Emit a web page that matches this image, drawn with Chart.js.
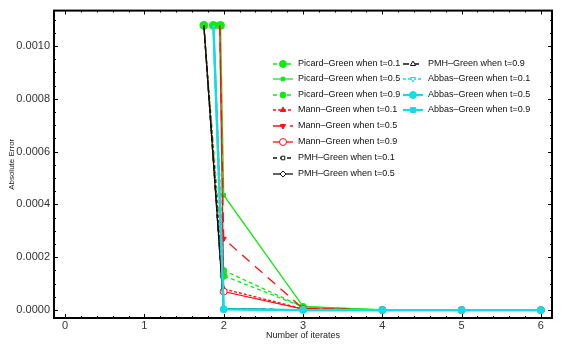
<!DOCTYPE html>
<html>
<head>
<meta charset="utf-8">
<script src="https://cdn.jsdelivr.net/npm/chart.js@4/dist/chart.umd.min.js"></script>
<style>
  html, body { margin: 0; padding: 0; background: #fff; }
  #wrap { width: 567px; height: 346px; }
</style>
</head>
<body>
<div id="wrap"><canvas id="errorChart"></canvas></div>
<script>
// iterate numbers (first point of each series sits a bit left of 2)
const iterates = [2, 3, 4, 5, 6];
const xTicks = [0, 1, 2, 3, 4, 5, 6];
const yTicks = [0, 0.0002, 0.0004, 0.0006, 0.0008, 0.0010];

// x position of the first (top) point for each series
const firstIterate = [1.75, 1.96, 1.87, 1.75, 1.95, 1.95, 1.75, 1.75, 1.75, 1.87, 1.87, 1.87];
const startError = 0.001078;

// absolute error at iterates 2..6
const picard01 = [0.000130, 0.000012, 0.000001, 0, 0];
const picard05 = [0.000435, 0.000014, 0.000001, 0, 0];
const picard09 = [0.000150, 0.000012, 0.000001, 0, 0];
const mann01   = [0.000080, 0.000005, 0, 0, 0];
const mann05   = [0.000270, 0.000006, 0, 0, 0];
const mann09   = [0.000070, 0.000004, 0, 0, 0];
const pmh01    = [0.000006, 0, 0, 0, 0];
const pmh05    = [0.000005, 0, 0, 0, 0];
const pmh09    = [0.000006, 0, 0, 0, 0];
const abbas01  = [0.000004, 0, 0, 0, 0];
const abbas05  = [0.000003, 0, 0, 0, 0];
const abbas09  = [0.000003, 0, 0, 0, 0];

const seriesLabels = [
  'Picard\u2013Green when t=0.1', 'Picard\u2013Green when t=0.5', 'Picard\u2013Green when t=0.9',
  'Mann\u2013Green when t=0.1', 'Mann\u2013Green when t=0.5', 'Mann\u2013Green when t=0.9',
  'PMH\u2013Green when t=0.1', 'PMH\u2013Green when t=0.5', 'PMH\u2013Green when t=0.9',
  'Abbas\u2013Green when t=0.1', 'Abbas\u2013Green when t=0.5', 'Abbas\u2013Green when t=0.9'
];
const seriesValues = [picard01, picard05, picard09, mann01, mann05, mann09,
  pmh01, pmh05, pmh09, abbas01, abbas05, abbas09];

const GREEN = '#13e813';
const RED = '#ff1010';
const BLACK = '#111111';
const CYAN = '#12dce6';

// style per series: colour, dash, marker, open marker, width
const styles = [
  { c: GREEN, dash: [4, 3], pt: 'circle', r: 3.5, open: false, w: 1.3 },
  { c: GREEN, dash: [],     pt: 'rect',   r: 2.5, open: false, w: 1.3 },
  { c: GREEN, dash: [4, 3], pt: 'circle', r: 3,   open: false, w: 1.3 },
  { c: RED,   dash: [3, 2], pt: 'triangle', r: 3, open: false, w: 1.3 },
  { c: RED,   dash: [10, 7], pt: 'triangle', r: 3, open: false, w: 1.3, rot: 180 },
  { c: RED,   dash: [],     pt: 'circle', r: 3.5, open: true,  w: 1.3 },
  { c: BLACK, dash: [4, 3], pt: 'rect',   r: 2.5, open: true,  w: 1.3 },
  { c: BLACK, dash: [],     pt: 'rectRot', r: 3, open: true,  w: 1.3 },
  { c: BLACK, dash: [6, 4], pt: 'triangle', r: 3, open: true,  w: 1.3 },
  { c: CYAN,  dash: [3, 2], pt: 'triangle', r: 3, open: true,  w: 1.3, rot: 180 },
  { c: CYAN,  dash: [],     pt: 'circle', r: 3.5, open: false, w: 2.2 },
  { c: CYAN,  dash: [],     pt: 'rect',   r: 3.5, open: false, w: 2.2 }
];

const datasets = seriesLabels.map(function(label, i) {
  const s = styles[i];
  const isGreen = i < 3;
  const pts = [{ x: firstIterate[i], y: startError }];
  iterates.forEach(function(it, k) { pts.push({ x: it, y: seriesValues[i][k] }); });
  // only the green series show a marker at the top starting point
  const radii = pts.map(function(p, k) { return k === 0 ? (isGreen ? 4 : 0) : s.r; });
  const shapes = pts.map(function(p, k) { return k === 0 ? 'circle' : s.pt; });
  return {
    label: label,
    data: pts,
    order: seriesLabels.length - i, // later series drawn on top
    borderColor: s.c,
    backgroundColor: s.c,
    borderWidth: s.w,
    borderDash: s.dash,
    pointStyle: shapes,
    pointRadius: radii,
    pointRotation: s.rot || 0,
    pointBorderColor: s.c,
    pointBackgroundColor: s.open ? '#fff' : s.c,
    pointBorderWidth: 1,
    tension: 0
  };
});

// frame, inward ticks and the two-column legend
const framePlugin = {
  id: 'frame',
  afterDraw: function(chart) {
    const ctx = chart.ctx;
    const a = chart.chartArea;
    const xs = chart.scales.x, ys = chart.scales.y;
    ctx.save();
    ctx.strokeStyle = '#000';
    ctx.lineWidth = 1;
    // minor/major ticks
    for (let v = 0; v <= 6.001; v += 0.2) {
      const px = Math.round(xs.getPixelForValue(v)) + 0.5;
      const len = Math.abs(v - Math.round(v)) < 0.01 ? 4 : 2;
      ctx.beginPath();
      ctx.moveTo(px, a.bottom); ctx.lineTo(px, a.bottom - len);
      ctx.moveTo(px, a.top); ctx.lineTo(px, a.top + len);
      ctx.stroke();
    }
    for (let k = 0; k <= 22; k++) {
      const v = k * 0.00005;
      if (v > ys.max) break;
      const py = Math.round(ys.getPixelForValue(v)) + 0.5;
      const len = k % 4 === 0 ? 4 : 2;
      ctx.beginPath();
      ctx.moveTo(a.left, py); ctx.lineTo(a.left + len, py);
      ctx.moveTo(a.right, py); ctx.lineTo(a.right - len, py);
      ctx.stroke();
    }
    ctx.lineWidth = 2;
    ctx.strokeRect(a.left, a.top, a.right - a.left, a.bottom - a.top);

    // legend
    ctx.font = '9px "Liberation Sans", Arial, sans-serif';
    ctx.textBaseline = 'middle';
    const rowY = [64, 79, 95, 110, 126, 142, 158, 174];
    chart.data.datasets.forEach(function(ds, i) {
      const col = i < 8 ? 0 : 1;
      const row = i < 8 ? i : i - 8;
      const x0 = col === 0 ? 273 : 403;
      const y = rowY[row];
      const s = styles[i];
      ctx.save();
      ctx.strokeStyle = s.c;
      ctx.lineWidth = s.w;
      ctx.setLineDash(s.dash);
      ctx.beginPath();
      ctx.moveTo(x0, y); ctx.lineTo(x0 + 20, y);
      ctx.stroke();
      ctx.setLineDash([]);
      ctx.fillStyle = s.open ? '#fff' : s.c;
      ctx.strokeStyle = s.c;
      ctx.lineWidth = 1;
      Chart.helpers.drawPoint(ctx, { pointStyle: s.pt, radius: s.r, rotation: s.rot || 0, borderWidth: 1 }, x0 + 10, y);
      ctx.restore();
      ctx.fillStyle = '#111';
      ctx.fillText(ds.label, x0 + 25, y);
    });
    ctx.restore();
  }
};

new Chart(document.getElementById('errorChart'), {
  type: 'line',
  data: { datasets: datasets },
  options: {
    responsive: true,
    maintainAspectRatio: false,
    animation: false,
    layout: { padding: { top: 5, right: 15, left: 0, bottom: 0 } },
    plugins: { legend: { display: false }, tooltip: { enabled: false } },
    scales: {
      x: {
        type: 'linear',
        min: -0.14,
        max: 6.14,
        afterFit: function(scale) { scale.height = 28; },
        afterBuildTicks: function(scale) { scale.ticks = xTicks.map(function(v) { return { value: v }; }); },
        grid: { display: false, drawTicks: false },
        border: { display: false },
        ticks: { color: '#333', font: { size: 11, family: '"Liberation Sans", Arial, sans-serif' }, padding: 1,
          callback: function(v) { return String(v); } },
        title: { display: true, text: 'Number of iterates', color: '#222',
          font: { size: 9, family: '"Liberation Sans", Arial, sans-serif' }, padding: { top: 0, bottom: 5 } }
      },
      y: {
        min: -0.00003,
        max: 0.001134,
        afterFit: function(scale) { scale.width = 54; },
        afterBuildTicks: function(scale) { scale.ticks = yTicks.map(function(v) { return { value: v }; }); },
        grid: { display: false, drawTicks: false },
        border: { display: false },
        ticks: { color: '#333', font: { size: 11, family: '"Liberation Sans", Arial, sans-serif' }, padding: 4,
          callback: function(v) { return Number(v).toFixed(4); } },
        title: { display: true, text: 'Absolute Error', color: '#222',
          font: { size: 8, family: '"Liberation Sans", Arial, sans-serif' }, padding: { top: 7, bottom: 0 } }
      }
    }
  },
  plugins: [framePlugin]
});
</script>
</body>
</html>
